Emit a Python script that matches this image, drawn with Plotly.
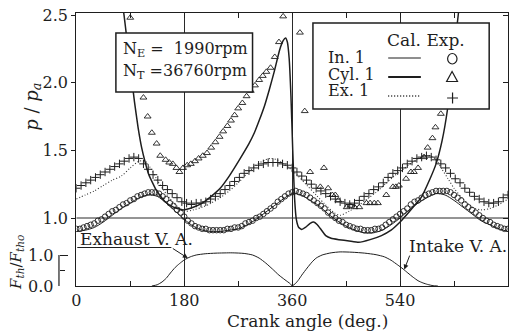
import plotly.graph_objects as go

# ---------------- data (crank angle in deg, p/pa or F/Fth0) ----------------
IN_EXP_DEG = [0,6,12,18,24,30,36,42,48,54,60,66,72,78,84,90,96,102,108,114,120,126,132,138,144,150,156,162,168,174,
              180,186,192,198,204,210,216,222,228,234,240,246,252,258,264,270,276,282,288,294,300,306,312,318,324,330,
              336,342,348,354,360,366,372,378,384,390,396,402,408,414,420,426,432,438,444,450,456,462,468,474,480,486,
              492,498,504,510,516,522,528,534,540,546,552,558,564,570,576,582,588,594,600,606,612,618,624,630,636,642,
              648,654,660,666,672,678,684,690,696,702,708,714,720]
IN_EXP = [0.92,0.92,0.93,0.94,0.95,0.96,0.98,0.99,1.01,1.03,
          1.05,1.06,1.08,1.10,1.11,1.13,1.14,1.16,1.17,1.18,
          1.19,1.19,1.19,1.18,1.16,1.14,1.11,1.09,1.06,1.04,
          1.01,0.98,0.96,0.94,0.93,0.92,0.92,0.91,0.91,0.91,
          0.91,0.91,0.92,0.92,0.93,0.93,0.94,0.96,0.97,0.98,
          1.00,1.01,1.03,1.05,1.07,1.09,1.12,1.14,1.16,1.18,
          1.19,1.20,1.19,1.18,1.17,1.15,1.13,1.11,1.09,1.07,
          1.04,1.02,1.00,0.98,0.97,0.95,0.94,0.93,0.92,0.92,
          0.91,0.91,0.91,0.92,0.92,0.93,0.95,0.97,0.99,1.01,
          1.03,1.05,1.07,1.10,1.12,1.13,1.15,1.17,1.18,1.19,
          1.20,1.20,1.20,1.20,1.19,1.17,1.15,1.13,1.10,1.08,
          1.06,1.04,1.02,1.00,0.98,0.97,0.95,0.94,0.93,0.92,0.92]

IN_CAL_DEG = [0,15,30,45,60,75,90,105,120,135,150,165,180,195,210,225,240,255,270,285,300,315,330,345,360,
              375,390,405,420,435,450,465,480,495,510,525,540,555,570,585,600,615,630,645,660,675,690,705,720]
IN_CAL = [0.90,0.91,0.93,0.97,1.02,1.07,1.11,1.15,1.17,1.16,1.11,1.05,0.99,0.94,0.91,0.90,0.90,0.91,0.92,0.95,
          0.99,1.04,1.09,1.14,1.18,1.17,1.13,1.09,1.03,0.98,0.94,0.91,0.89,0.89,0.91,0.95,1.00,1.06,1.11,1.15,
          1.18,1.17,1.13,1.08,1.03,0.98,0.95,0.92,0.90]

EX_EXP_DEG = [0,8,16,24,32,40,48,56,64,72,80,88,96,104,112,120,128,136,144,152,160,168,176,184,192,200,208,216,
              224,232,240,248,256,264,272,280,288,296,304,312,320,328,336,344,352,360,368,376,384,392,400,408,416,
              424,432,440,448,456,464,472,480,488,496,504,512,520,528,536,544,552,560,568,576,584,592,600,608,616,
              624,632,640,648,656,664,672,680,688,696,704,712,720]
EX_EXP = [1.22,1.24,1.26,1.28,1.30,1.32,1.34,1.36,1.38,1.40,
          1.42,1.44,1.45,1.44,1.40,1.36,1.32,1.28,1.24,1.21,
          1.18,1.15,1.12,1.11,1.10,1.11,1.11,1.12,1.14,1.16,
          1.18,1.21,1.24,1.27,1.30,1.33,1.35,1.37,1.39,1.40,
          1.41,1.41,1.41,1.40,1.39,1.37,1.34,1.31,1.28,1.25,
          1.22,1.20,1.18,1.16,1.14,1.12,1.11,1.10,1.11,1.13,
          1.16,1.18,1.21,1.23,1.26,1.30,1.33,1.35,1.37,1.40,
          1.42,1.44,1.45,1.46,1.45,1.43,1.40,1.37,1.33,1.29,
          1.26,1.22,1.19,1.16,1.14,1.12,1.11,1.11,1.12,1.15,1.17]

EX_CAL_DEG = [0,15,30,45,60,75,90,105,115,125,135,145,155,165,180,195,210,225,240,255,270,285,300,315,325,335,
              345,355,370,385,400,415,430,440,455,470,485,500,515,530,545,560,575,590,600,610,620,630,645,660,675,
              690,705,720]
EX_CAL = [1.14,1.17,1.20,1.24,1.28,1.31,1.37,1.42,1.42,1.36,1.28,1.21,1.15,1.10,1.05,1.06,1.08,1.11,1.15,1.20,
          1.26,1.33,1.39,1.43,1.44,1.43,1.40,1.37,1.31,1.24,1.17,1.10,1.04,1.02,1.05,1.09,1.14,1.19,1.25,1.31,
          1.36,1.41,1.45,1.46,1.43,1.36,1.29,1.22,1.14,1.08,1.06,1.07,1.10,1.14]

CYL_CAL_DEG = [0,30,50,65,79,85,91,97,103,109,115,121,134,148,162,178,195,210,225,240,255,272,288,297,305,314,
               322,330,339,345,349,352,355,358,361,364,367,371,376,382,390,396,402,409,416,425,438,455,471,490,
               509,525,540,556,575,590,600,610,619,628,637,650,670,695,720]
CYL_CAL = [4.6,4.0,3.4,2.9,2.52,2.30,2.08,1.86,1.67,1.52,1.41,1.32,1.20,1.12,1.08,1.06,1.08,1.11,1.16,1.22,
           1.31,1.43,1.55,1.63,1.72,1.83,1.95,2.08,2.24,2.31,2.33,2.30,2.18,1.90,1.50,1.15,0.99,0.93,0.915,0.93,
           0.96,0.97,0.95,0.91,0.87,0.85,0.84,0.83,0.82,0.84,0.87,0.91,0.97,1.05,1.15,1.29,1.40,1.57,1.80,2.15,
           2.50,3.0,3.6,4.2,4.6]

CYL_EXP_DEG = [90,112,119,126,134,140,149,155,161,167,172,178,185,191,198,204,211,218,225,232,239,245,252,258,
               264,270,277,284,291,298,305,311,317,324,331,338,345,373,381,390,407,413,420,427,432,437,451,457,
               464,472,484,490,497,503,517,528,533,538,550,558,563,570,580,586,594,599,608]
CYL_EXP = [2.48,1.89,1.75,1.63,1.55,1.46,1.43,1.41,1.40,1.37,1.34,1.37,1.39,1.40,1.42,1.44,1.46,1.48,1.52,1.56,
           1.60,1.64,1.68,1.72,1.76,1.81,1.85,1.90,1.94,1.98,2.02,2.05,2.08,2.11,2.19,2.30,2.49,2.37,1.79,1.34,
           1.23,1.37,1.22,1.17,1.17,1.13,1.08,1.09,1.08,1.08,1.11,1.11,1.11,1.11,1.17,1.23,1.23,1.24,1.29,1.34,
           1.34,1.37,1.45,1.52,1.59,1.67,1.77]

EXH_DEG = [126,135,143,150,157,165,172,180,190,200,215,233,260,280,294,305,316,327,338,348,357,360]
EXH_F = [0,0.04,0.13,0.25,0.42,0.60,0.72,0.84,0.94,1.00,1.04,1.06,1.07,1.05,1.00,0.90,0.74,0.55,0.35,0.20,0.07,0.0]

INT_DEG = [360,365,370,376,385,393,400,410,425,440,460,481,500,514,525,536,545,553,562,570,578,586,595,603]
INT_F = [0,0.07,0.18,0.35,0.58,0.77,0.90,1.00,1.07,1.10,1.09,1.06,1.01,0.94,0.83,0.68,0.55,0.42,0.28,0.17,
         0.10,0.05,0.01,0]

X_TICKS = [0, 180, 360, 540, 720]
X_TICKTEXT = ["0", "180", "360", "540", "720"]
X_MINOR = [90, 270, 450, 630]
P_TICKS = [1.0, 1.5, 2.0, 2.5]
P_TICKTEXT = ["1.0", "1.5", "2.0", "2.5"]
F_TICKS = [0.0, 1.0]
F_TICKTEXT = ["0.0", "1.0"]

# ---------------- layout geometry ----------------
W, H = 513, 331
ML, MR, MT, MB = 0, 5, 13, 45
PW = W - ML - MR
PH = H - MT - MB
BOTTOM = H - MB
F_PX_PER_UNIT = 31.0


def px(x):
    return (x - ML) / PW


def py(y):
    return (BOTTOM - y) / PH


P_RANGE = [1.0 - (BOTTOM - 218) / 135.33, 1.0 + (218 - MT) / 135.33]
F_RANGE = [0.0, PH / F_PX_PER_UNIT]

INK = "#1e1e1e"
SERIF = "DejaVu Serif"

fig = go.Figure()

fig.add_trace(go.Scatter(x=EXH_DEG, y=EXH_F, mode="lines", yaxis="y2",
                         line=dict(color=INK, width=1, shape="spline", smoothing=0.6), showlegend=False))
fig.add_trace(go.Scatter(x=INT_DEG, y=INT_F, mode="lines", yaxis="y2",
                         line=dict(color=INK, width=1, shape="spline", smoothing=0.6), showlegend=False))

fig.add_trace(go.Scatter(x=IN_CAL_DEG, y=IN_CAL, mode="lines",
                         line=dict(color=INK, width=1, shape="spline", smoothing=0.8), showlegend=False))
fig.add_trace(go.Scatter(x=EX_CAL_DEG, y=EX_CAL, mode="lines",
                         line=dict(color="#333", width=1.1, dash="1px,2px", shape="spline", smoothing=0.8),
                         showlegend=False))
fig.add_trace(go.Scatter(x=CYL_CAL_DEG, y=CYL_CAL, mode="lines",
                         line=dict(color=INK, width=1.5, shape="spline", smoothing=0.4), showlegend=False))

fig.add_trace(go.Scatter(x=IN_EXP_DEG, y=IN_EXP, mode="markers",
                         marker=dict(symbol="circle-open", size=5.5, color=INK, line=dict(width=0.9, color=INK)),
                         showlegend=False))
fig.add_trace(go.Scatter(x=EX_EXP_DEG, y=EX_EXP, mode="markers",
                         marker=dict(symbol="cross-thin", size=6, color=INK, line=dict(width=1, color=INK)),
                         showlegend=False))
fig.add_trace(go.Scatter(x=CYL_EXP_DEG, y=CYL_EXP, mode="markers",
                         marker=dict(symbol="triangle-up-open", size=6, color=INK, line=dict(width=0.9, color=INK)),
                         showlegend=False))

fig.add_trace(go.Scatter(x=[0], y=[1.0], yaxis="y3", mode="markers", marker=dict(opacity=0),
                         hoverinfo="skip", showlegend=False))

tickfont = dict(family=SERIF, size=16, color=INK)
X_LEFT = px(72)

fig.update_layout(
    width=W, height=H, autosize=False,
    margin=dict(l=ML, r=MR, t=MT, b=MB),
    paper_bgcolor="white", plot_bgcolor="white",
    xaxis=dict(domain=[X_LEFT, 1.0], range=[0, 720], tickmode="array", tickvals=X_TICKS, ticktext=X_TICKTEXT,
               ticks="inside", ticklen=5, tickcolor=INK, showline=True, linecolor=INK, linewidth=1.2,
               mirror="ticks", showgrid=True, gridcolor="#2a2a2a", gridwidth=1, zeroline=False,
               tickfont=tickfont,
               minor=dict(tickmode="array", tickvals=X_MINOR, ticks="inside", ticklen=5, tickcolor=INK,
                          showgrid=False)),
    yaxis=dict(domain=[0, 1], range=P_RANGE, anchor="x", tickmode="array", tickvals=P_TICKS,
               ticktext=P_TICKTEXT, ticks="outside", ticklen=4, tickcolor=INK, showline=True, linecolor=INK,
               linewidth=1.2, mirror=True, showgrid=False, zeroline=False, tickfont=tickfont),
    yaxis2=dict(overlaying="y", range=F_RANGE, anchor="free", position=px(54.5), side="left",
                tickmode="array", tickvals=F_TICKS, ticks="inside", ticklen=8, showticklabels=False,
                tickcolor=INK, showline=False, showgrid=False, zeroline=False,
                minor=dict(tickmode="array", tickvals=[0.5], ticks="inside", ticklen=5, tickcolor=INK,
                           showgrid=False)),
    yaxis3=dict(overlaying="y", range=P_RANGE, anchor="x", side="right", tickmode="array", tickvals=P_TICKS,
                ticks="inside", ticklen=5, tickcolor=INK, showticklabels=False, showline=False,
                showgrid=False, zeroline=False),
)

shapes = []
shapes.append(dict(type="line", xref="x", yref="y", x0=0, x1=720, y0=1.0, y1=1.0,
                   line=dict(color="#2a2a2a", width=1), layer="below"))
shapes.append(dict(type="line", xref="paper", yref="y2", x0=px(54.5), x1=px(54.5), y0=0, y1=1,
                   line=dict(color=INK, width=1.2)))
shapes.append(dict(type="line", xref="paper", yref="paper", x0=px(73), x1=px(168), y0=py(247.5), y1=py(247.5),
                   line=dict(color=INK, width=1)))
shapes.append(dict(type="rect", xref="paper", yref="paper", x0=px(112), x1=px(250), y0=py(92), y1=py(33),
                   fillcolor="white", line=dict(color=INK, width=1.5), layer="above"))
shapes.append(dict(type="rect", xref="paper", yref="paper", x0=px(311), x1=px(489), y0=py(109), y1=py(23),
                   fillcolor="white", line=dict(color=INK, width=1.5), layer="above"))
shapes.append(dict(type="line", xref="paper", yref="paper", x0=px(387), x1=px(420), y0=py(58), y1=py(58),
                   line=dict(color=INK, width=1), layer="above"))
shapes.append(dict(type="line", xref="paper", yref="paper", x0=px(387), x1=px(420), y0=py(77), y1=py(77),
                   line=dict(color=INK, width=2.2), layer="above"))
shapes.append(dict(type="line", xref="paper", yref="paper", x0=px(387), x1=px(420), y0=py(96), y1=py(96),
                   line=dict(color=INK, width=1.3, dash="1px,2px"), layer="above"))
shapes.append(dict(type="circle", xref="paper", yref="paper", x0=px(447), x1=px(456.5), y0=py(64), y1=py(53.5),
                   line=dict(color=INK, width=1.2), layer="above"))
tri = "M {},{} L {},{} L {},{} Z".format(px(451.5), py(71.5), px(446), py(81.5), px(457), py(81.5))
shapes.append(dict(type="path", xref="paper", yref="paper", path=tri, line=dict(color=INK, width=1.2),
                   layer="above"))
plus = "M {},{} L {},{} M {},{} L {},{}".format(px(446.5), py(98), px(457.5), py(98), px(452), py(92.5),
                                               px(452), py(103.5))
shapes.append(dict(type="path", xref="paper", yref="paper", path=plus, line=dict(color=INK, width=1.2),
                   layer="above"))
fig.update_layout(shapes=shapes)

textfont = dict(family=SERIF, size=17, color=INK)
ann = []


def txt(text, x, y, xanchor="left", yanchor="middle", font=None, angle=0, bg=None):
    d = dict(text=text, x=x, y=y, xref="paper", yref="paper", xanchor=xanchor, yanchor=yanchor,
             showarrow=False, font=font or textfont, textangle=angle)
    if bg:
        d["bgcolor"] = bg
    ann.append(d)


txt("<i>F<sub>th</sub></i>/<i>F<sub>tho</sub></i>", px(11), py(262), xanchor="center",
    font=dict(family=SERIF, size=15, color=INK), angle=-90)
# F axis tick labels, placed on the 31 px per unit F scale
for fv, ft in zip(F_TICKS, F_TICKTEXT):
    txt(ft, px(51), py(BOTTOM - fv * F_PX_PER_UNIT), xanchor="right", font=tickfont, bg="white")

txt("Exhaust V. A.", px(74), py(239))
txt("Intake V. A.", px(406), py(245.5))
txt("N<sub>E</sub> =\u00a0\u00a01990rpm", px(117), py(50), font=dict(family=SERIF, size=16, color=INK))
txt("N<sub>T</sub> =36760rpm", px(117), py(71), font=dict(family=SERIF, size=16, color=INK))
txt("Cal. Exp.", px(384), py(40))
txt("In. 1", px(324), py(58), font=dict(family=SERIF, size=16, color=INK))
txt("Cyl. 1", px(324), py(74), font=dict(family=SERIF, size=16, color=INK))
txt("Ex. 1", px(324), py(90), font=dict(family=SERIF, size=16, color=INK))
txt("Crank angle (deg.)", px(306), py(321), xanchor="center")
txt("<i>p</i> / <i>p<sub>a</sub></i>", px(28), py(107), xanchor="center",
    font=dict(family=SERIF, size=18, color=INK), angle=-90)

ann.append(dict(text="", x=186, y=0.90, xref="x", yref="y2", ax=158.5, ay=1.24, axref="x", ayref="y2",
                showarrow=True, arrowhead=2, arrowsize=1, arrowwidth=1, arrowcolor=INK, standoff=0))
ann.append(dict(text="", x=547, y=0.53, xref="x", yref="y2", ax=557, ay=1.03, axref="x", ayref="y2",
                showarrow=True, arrowhead=2, arrowsize=1, arrowwidth=1, arrowcolor=INK, standoff=0))
fig.update_layout(annotations=ann)

fig.write_html("out.html")
